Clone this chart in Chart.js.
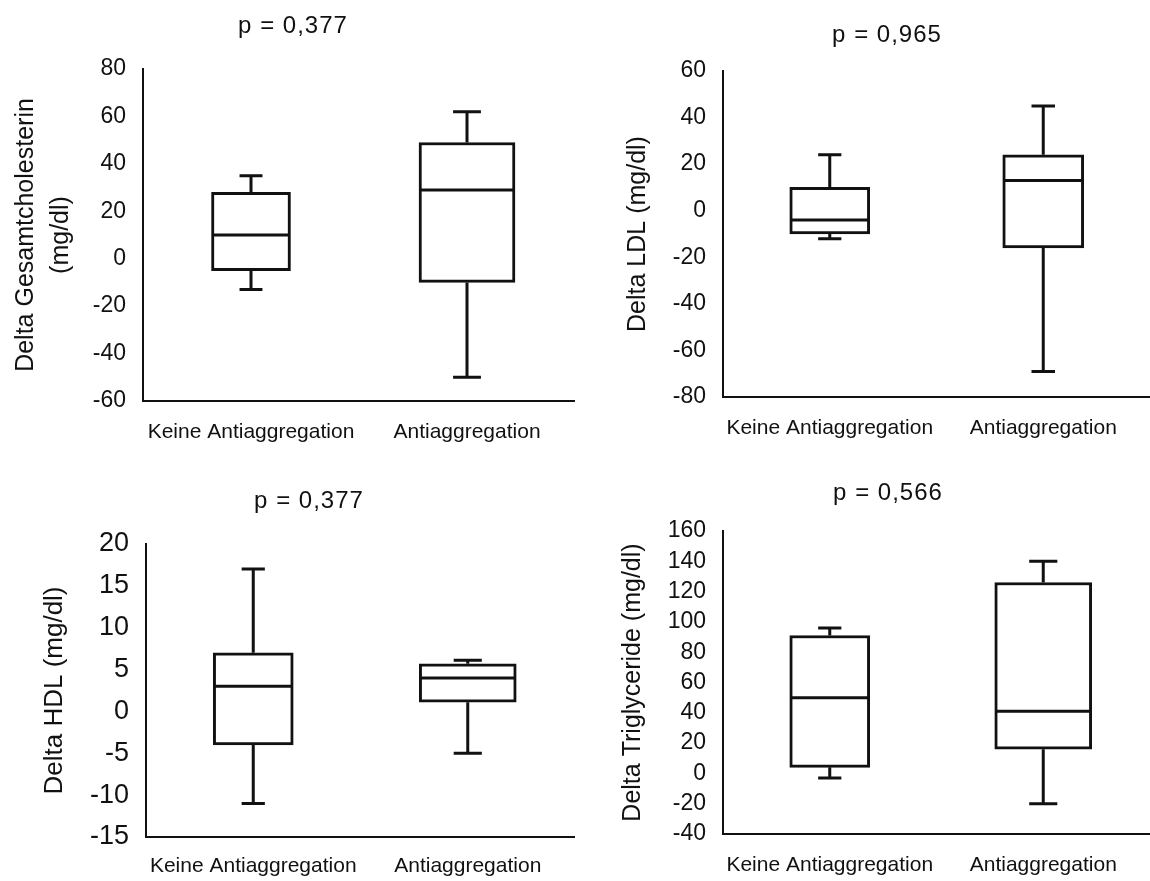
<!DOCTYPE html>
<html><head><meta charset="utf-8">
<script src="https://cdn.jsdelivr.net/npm/chart.js@4.4.1/dist/chart.umd.min.js"></script>
<style>
html,body{margin:0;padding:0;background:#fff;overflow:hidden;width:1150px;height:881px;position:relative;}
canvas{position:absolute;}
</style></head><body>
<canvas id="c1"></canvas>
<canvas id="c2"></canvas>
<canvas id="c3"></canvas>
<canvas id="c4"></canvas>
<script>
// ---- data ----
const categories = ['Keine Antiaggregation', 'Antiaggregation'];
const pValues = ['p = 0,377', 'p = 0,965', 'p = 0,377', 'p = 0,566'];
const yTitles = [['Delta Gesamtcholesterin', '(mg/dl)'], 'Delta LDL (mg/dl)', 'Delta HDL (mg/dl)', 'Delta Triglyceride (mg/dl)'];

const cholMin = [-13, -50];
const cholQ1 = [-5, -10];
const cholMedian = [10, 29];
const cholQ3 = [28, 49];
const cholMax = [35, 62];

const ldlMin = [-12, -69];
const ldlQ1 = [-10, -16];
const ldlMedian = [-4, 13];
const ldlQ3 = [10, 24];
const ldlMax = [24, 45];

const hdlMin = [-11, -5];
const hdlQ1 = [-4, 1.1];
const hdlMedian = [3, 4];
const hdlQ3 = [7, 5.7];
const hdlMax = [17, 6.1];

const tgMin = [-3, -20];
const tgQ1 = [4, 16];
const tgMedian = [50, 41];
const tgQ3 = [91, 126];
const tgMax = [96, 140];

const cholTicks = {min: -60, max: 80, step: 20};
const ldlTicks = {min: -80, max: 60, step: 20};
const hdlTicks = {min: -15, max: 20, step: 5};
const tgTicks = {min: -40, max: 160, step: 20};

// ---- layout / style ----
const INK = '#111111';
const FONT = '"Liberation Sans", Arial, sans-serif';

const panels = [
  {id:'c1', left:0, top:0, width:575, height:450, L:143, R:575, T:69, B:401, titleX:293, titleY:26, xLabelY:432, yTitleX:26.6, yTitleSize:25, tickSize:23, boxW:[79,96],
   stats:{min:cholMin,q1:cholQ1,med:cholMedian,q3:cholQ3,max:cholMax}, ticks:cholTicks, p:pValues[0], yTitle:yTitles[0]},
  {id:'c2', left:600, top:0, width:550, height:450, L:723, R:1150, T:71, B:397, titleX:887, titleY:35, xLabelY:428, yTitleX:638, yTitleSize:25, tickSize:23, boxW:[80,81],
   stats:{min:ldlMin,q1:ldlQ1,med:ldlMedian,q3:ldlQ3,max:ldlMax}, ticks:ldlTicks, p:pValues[1], yTitle:yTitles[1]},
  {id:'c3', left:0, top:460, width:575, height:421, L:146, R:575, T:544, B:837, titleX:309, titleY:501, xLabelY:866, yTitleX:55, yTitleSize:26, tickSize:27, boxW:[80,97],
   stats:{min:hdlMin,q1:hdlQ1,med:hdlMedian,q3:hdlQ3,max:hdlMax}, ticks:hdlTicks, p:pValues[2], yTitle:yTitles[2]},
  {id:'c4', left:600, top:460, width:550, height:421, L:723, R:1150, T:531, B:834, titleX:888, titleY:493, xLabelY:865, yTitleX:633, yTitleSize:25, tickSize:23, boxW:[80,97],
   stats:{min:tgMin,q1:tgQ1,med:tgMedian,q3:tgQ3,max:tgMax}, ticks:tgTicks, p:pValues[3], yTitle:yTitles[3]}
];

const boxPlugin = {
  id: 'boxWhiskers',
  afterDatasetsDraw(chart, args, opts) {
    const s = opts.stats;
    const y = chart.scales.y;
    const ctx = chart.ctx;
    ctx.save();
    ctx.strokeStyle = INK;
    ctx.lineWidth = 3;
    ctx.lineCap = 'butt';
    chart.data.datasets.forEach((ds, i) => {
      const el = chart.getDatasetMeta(i).data[i];
      if (!el) return;
      const x = el.x, w = el.width, cap = w * 0.29;
      const yMin = y.getPixelForValue(s.min[i]);
      const yQ1 = y.getPixelForValue(s.q1[i]);
      const yMed = y.getPixelForValue(s.med[i]);
      const yQ3 = y.getPixelForValue(s.q3[i]);
      const yMax = y.getPixelForValue(s.max[i]);
      ctx.beginPath();
      ctx.moveTo(x, yQ3); ctx.lineTo(x, yMax);
      ctx.moveTo(x - cap / 2, yMax); ctx.lineTo(x + cap / 2, yMax);
      ctx.moveTo(x, yQ1); ctx.lineTo(x, yMin);
      ctx.moveTo(x - cap / 2, yMin); ctx.lineTo(x + cap / 2, yMin);
      ctx.moveTo(x - w / 2 + 1, yMed); ctx.lineTo(x + w / 2 - 1, yMed);
      ctx.stroke();
    });
    ctx.restore();
  }
};

panels.forEach(pn => {
  const cv = document.getElementById(pn.id);
  cv.width = pn.width; cv.height = pn.height;
  cv.style.left = pn.left + 'px'; cv.style.top = pn.top + 'px';
  cv.style.width = pn.width + 'px'; cv.style.height = pn.height + 'px';

  const titleSize = 24, titleLH = titleSize * 1.2;
  const titlePadTop = pn.titleY - pn.top - titleLH / 2;
  const titlePadBottom = pn.T - pn.top - titlePadTop - titleLH;
  const xLabelSize = 21, xLabelLH = xLabelSize * 1.2;
  const xTickPad = pn.xLabelY - pn.B - xLabelLH / 2;
  const xHeight = pn.top + pn.height - pn.B;
  const yWidth = pn.L - pn.left;
  const yTitleLH = pn.yTitleSize * 1.4;
  const yTitlePad = pn.yTitleX - pn.left - yTitleLH / 2;
  const padRight = pn.left + pn.width - pn.R;
  const titleShift = pn.titleX - (pn.left + pn.R) / 2;

  const datasets = categories.map((c, i) => ({
    label: c,
    data: categories.map((_, j) => j === i ? [pn.stats.q1[j], pn.stats.q3[j]] : null),
    barThickness: pn.boxW[i],
    grouped: false,
    backgroundColor: '#ffffff',
    borderColor: INK,
    borderWidth: 3,
    borderSkipped: false
  }));

  const chart = new Chart(cv, {
    type: 'bar',
    data: { labels: categories, datasets },
    plugins: [boxPlugin],
    options: {
      responsive: false,
      animation: false,
      devicePixelRatio: 1,
      layout: { padding: { top: 0, left: 0, bottom: 0, right: padRight } },
      plugins: {
        legend: { display: false },
        tooltip: { enabled: false },
        title: {
          display: true, text: pn.p, color: INK,
          font: { family: FONT, size: titleSize, weight: 'normal', lineHeight: 1.2 },
          padding: { top: titlePadTop, bottom: titlePadBottom }
        },
        boxWhiskers: { stats: pn.stats }
      },
      scales: {
        x: {
          type: 'category',
          grid: { display: false, drawTicks: false },
          border: { display: true, color: INK, width: 2 },
          ticks: { color: INK, padding: xTickPad, maxRotation: 0, autoSkip: false,
                   font: { family: FONT, size: xLabelSize, lineHeight: 1.2 } },
          afterFit: s => { s.height = xHeight; }
        },
        y: {
          min: pn.ticks.min, max: pn.ticks.max,
          grid: { display: false, drawTicks: false },
          border: { display: true, color: INK, width: 2 },
          ticks: { stepSize: pn.ticks.step, autoSkip: false, color: INK, padding: 17,
                   font: { family: FONT, size: pn.tickSize, lineHeight: 1.2 } },
          title: { display: true, text: pn.yTitle, color: INK,
                   font: { family: FONT, size: pn.yTitleSize, lineHeight: 1.4 },
                   padding: { top: yTitlePad, bottom: 0 } },
          afterFit: s => { s.width = yWidth; }
        }
      }
    }
  });

  // p-value title: slight letter spacing and horizontal placement as in the reference
  const tb = chart.titleBlock;
  if (tb) {
    const orig = tb.draw.bind(tb);
    tb.draw = function () {
      const c = this.ctx;
      c.save();
      c.translate(titleShift, 0);
      if ('letterSpacing' in c) c.letterSpacing = '1px';
      orig();
      c.restore();
    };
    chart.draw();
  }
});
</script>
</body></html>
